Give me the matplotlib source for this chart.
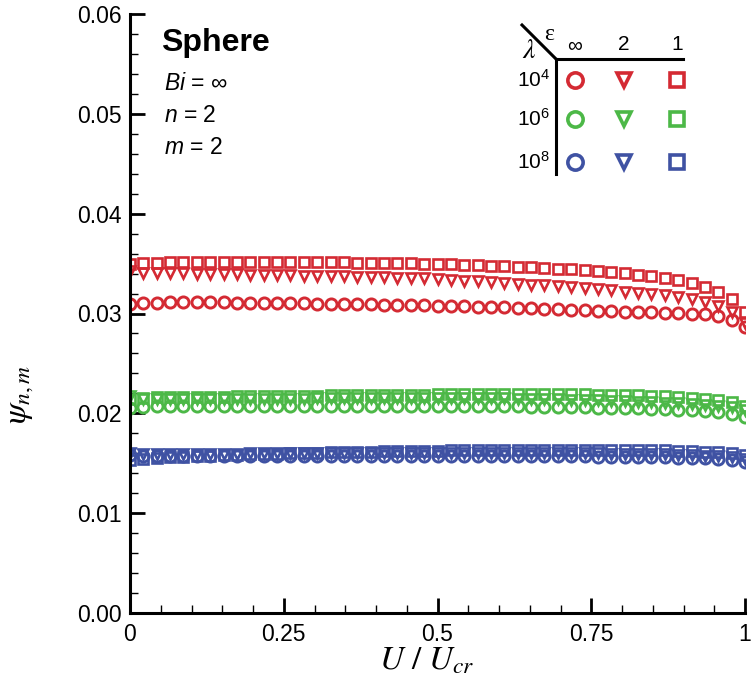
import numpy as np
import matplotlib
matplotlib.use("Agg")
import matplotlib.pyplot as plt
from matplotlib.lines import Line2D
from matplotlib.ticker import FixedLocator

plt.rcParams['font.family'] = ['Liberation Sans', 'DejaVu Sans']
plt.rcParams['mathtext.fontset'] = 'custom'
plt.rcParams['mathtext.rm'] = 'Liberation Sans'
plt.rcParams['mathtext.it'] = 'Liberation Sans:italic'
plt.rcParams['mathtext.bf'] = 'Liberation Sans:bold'

# U / U_cr sampling grid (47 equally spaced stations)
U = np.linspace(0, 1, 47)

# lambda = 1e4 (red)
R_ci = [0.0310, 0.0311, 0.0311, 0.0312, 0.0312, 0.0312, 0.0312, 0.0312, 0.0311, 0.0311,
        0.0311, 0.0311, 0.0311, 0.0311, 0.0310, 0.0310, 0.0310, 0.0310, 0.0310, 0.0309,
        0.0309, 0.0309, 0.0309, 0.0308, 0.0308, 0.0308, 0.0307, 0.0307, 0.0307, 0.0306,
        0.0306, 0.0305, 0.0305, 0.0304, 0.0304, 0.0303, 0.0303, 0.0302, 0.0302, 0.0302,
        0.0301, 0.0301, 0.0300, 0.0299, 0.0297, 0.0293, 0.0286]
R_tr = [0.0343, 0.0341, 0.0341, 0.0341, 0.0341, 0.0340, 0.0340, 0.0340, 0.0340, 0.0339,
        0.0339, 0.0339, 0.0339, 0.0338, 0.0338, 0.0338, 0.0338, 0.0337, 0.0337, 0.0337,
        0.0336, 0.0336, 0.0336, 0.0335, 0.0334, 0.0333, 0.0333, 0.0332, 0.0331, 0.0330,
        0.0329, 0.0329, 0.0328, 0.0327, 0.0326, 0.0325, 0.0324, 0.0322, 0.0321, 0.0320,
        0.0319, 0.0317, 0.0315, 0.0312, 0.0308, 0.0302, 0.0290]
R_sq = [0.0350, 0.0351, 0.0351, 0.0352, 0.0352, 0.0352, 0.0352, 0.0352, 0.0352, 0.0352,
        0.0352, 0.0352, 0.0352, 0.0352, 0.0352, 0.0352, 0.0352, 0.0351, 0.0351, 0.0351,
        0.0351, 0.0351, 0.0350, 0.0350, 0.0350, 0.0349, 0.0349, 0.0348, 0.0348, 0.0347,
        0.0347, 0.0346, 0.0345, 0.0345, 0.0344, 0.0343, 0.0342, 0.0341, 0.0339, 0.0338,
        0.0336, 0.0334, 0.0331, 0.0327, 0.0322, 0.0315, 0.0302]

# lambda = 1e6 (green)
G_ci = [0.0205, 0.0206, 0.0207, 0.0207, 0.0207, 0.0207, 0.0207, 0.0207, 0.0207, 0.0207,
        0.0207, 0.0207, 0.0207, 0.0207, 0.0207, 0.0207, 0.0207, 0.0207, 0.0207, 0.0207,
        0.0207, 0.0207, 0.0207, 0.0207, 0.0207, 0.0207, 0.0207, 0.0207, 0.0207, 0.0207,
        0.0206, 0.0206, 0.0206, 0.0206, 0.0206, 0.0205, 0.0205, 0.0205, 0.0205, 0.0204,
        0.0204, 0.0203, 0.0203, 0.0202, 0.0201, 0.0199, 0.0196]
G_tr = [0.0217, 0.0214, 0.0214, 0.0214, 0.0214, 0.0214, 0.0214, 0.0214, 0.0214, 0.0214,
        0.0214, 0.0214, 0.0214, 0.0214, 0.0215, 0.0215, 0.0215, 0.0215, 0.0215, 0.0215,
        0.0215, 0.0215, 0.0215, 0.0215, 0.0215, 0.0215, 0.0215, 0.0215, 0.0215, 0.0214,
        0.0214, 0.0214, 0.0214, 0.0213, 0.0213, 0.0213, 0.0212, 0.0212, 0.0211, 0.0211,
        0.0210, 0.0210, 0.0209, 0.0208, 0.0207, 0.0206, 0.0203]
G_sq = [0.0214, 0.0215, 0.0216, 0.0216, 0.0216, 0.0216, 0.0216, 0.0216, 0.0217, 0.0217,
        0.0217, 0.0217, 0.0217, 0.0217, 0.0217, 0.0218, 0.0218, 0.0218, 0.0218, 0.0218,
        0.0218, 0.0218, 0.0218, 0.0219, 0.0219, 0.0219, 0.0219, 0.0219, 0.0219, 0.0219,
        0.0219, 0.0219, 0.0219, 0.0219, 0.0219, 0.0218, 0.0218, 0.0218, 0.0218, 0.0217,
        0.0217, 0.0216, 0.0215, 0.0214, 0.0213, 0.0211, 0.0207]

# lambda = 1e8 (blue)
B_ci = [0.0158, 0.0157, 0.0157, 0.0157, 0.0157, 0.0157, 0.0157, 0.0157, 0.0157, 0.0157,
        0.0157, 0.0157, 0.0157, 0.0157, 0.0157, 0.0157, 0.0157, 0.0157, 0.0157, 0.0157,
        0.0157, 0.0157, 0.0157, 0.0157, 0.0157, 0.0157, 0.0157, 0.0157, 0.0157, 0.0157,
        0.0157, 0.0157, 0.0157, 0.0157, 0.0157, 0.0156, 0.0156, 0.0156, 0.0156, 0.0156,
        0.0156, 0.0155, 0.0155, 0.0155, 0.0154, 0.0153, 0.0151]
B_tr = [0.0160, 0.0159, 0.0159, 0.0159, 0.0159, 0.0159, 0.0159, 0.0159, 0.0159, 0.0160,
        0.0160, 0.0160, 0.0160, 0.0160, 0.0160, 0.0160, 0.0160, 0.0160, 0.0160, 0.0160,
        0.0160, 0.0160, 0.0160, 0.0160, 0.0160, 0.0160, 0.0160, 0.0160, 0.0160, 0.0160,
        0.0160, 0.0160, 0.0160, 0.0160, 0.0160, 0.0160, 0.0159, 0.0159, 0.0159, 0.0159,
        0.0159, 0.0158, 0.0158, 0.0157, 0.0157, 0.0156, 0.0154]
B_sq = [0.0153, 0.0154, 0.0155, 0.0156, 0.0156, 0.0157, 0.0157, 0.0158, 0.0158, 0.0159,
        0.0159, 0.0159, 0.0160, 0.0160, 0.0160, 0.0161, 0.0161, 0.0161, 0.0161, 0.0162,
        0.0162, 0.0162, 0.0162, 0.0162, 0.0163, 0.0163, 0.0163, 0.0163, 0.0163, 0.0163,
        0.0163, 0.0163, 0.0163, 0.0163, 0.0163, 0.0163, 0.0163, 0.0163, 0.0163, 0.0163,
        0.0163, 0.0162, 0.0162, 0.0161, 0.0161, 0.0160, 0.0158]

x_ticks = [0, 0.25, 0.5, 0.75, 1]
x_ticklabels = ['0', '0.25', '0.5', '0.75', '1']
y_ticks = [0, 0.01, 0.02, 0.03, 0.04, 0.05, 0.06]
y_ticklabels = ['0.00', '0.01', '0.02', '0.03', '0.04', '0.05', '0.06']
lam_labels = ['$10^4$', '$10^6$', '$10^8$']
eps_labels = [r'$\infty$', '2', '1']

red, green, blue = '#d42a33', '#4cb847', '#3f52a3'
series = [(R_sq, R_tr, R_ci, red), (G_sq, G_tr, G_ci, green), (B_sq, B_tr, B_ci, blue)]

W, H = 753, 682
fig = plt.figure(figsize=(W / 100, H / 100), dpi=100)
ax = fig.add_axes([130 / W, 1 - 613 / H, 615 / W, 599 / H])

for sq, tr, ci, c in series:
    ax.plot(U, sq, ls='none', marker='s', ms=7, mfc='none', mec=c, mew=1.9)
    ax.plot(U, tr, ls='none', marker='v', ms=7.5, mfc='none', mec=c, mew=1.9)
    ax.plot(U, ci, ls='none', marker='o', ms=8, mfc='none', mec=c, mew=2.1)

ax.set_xlim(0, 1)
ax.set_ylim(0, 0.06)
ax.xaxis.set_major_locator(FixedLocator(x_ticks))
ax.xaxis.set_minor_locator(FixedLocator(np.arange(0, 1.001, 0.05)))
ax.yaxis.set_major_locator(FixedLocator(y_ticks))
ax.yaxis.set_minor_locator(FixedLocator(np.arange(0, 0.0601, 0.002)))
ax.set_xticklabels(x_ticklabels)
ax.set_yticklabels(y_ticklabels)
ax.tick_params(which='both', direction='in', labelsize=16.5, top=False, right=False)
ax.tick_params(which='major', length=11, width=2)
ax.tick_params(which='minor', length=6, width=1)
ax.tick_params(axis='x', pad=7)
ax.tick_params(axis='y', pad=6)
for s in ['top', 'right']:
    ax.spines[s].set_visible(False)
for s in ['left', 'bottom']:
    ax.spines[s].set_linewidth(2.2)

fig.text(427 / W, 1 - 661 / H, r'$U\ /\ U_{cr}$', fontsize=24, ha='center', va='center',
         math_fontfamily='stix')
fig.text(20 / W, 1 - 395 / H, r'$\psi_{n,m}$', fontsize=24, ha='center', va='center',
         rotation=90, math_fontfamily='stix')

fig.text(161 / W, 1 - 43 / H, 'Sphere', fontsize=23, fontweight='bold', va='center')
fig.text(164 / W, 1 - 84 / H, r'$Bi$ = $\infty$', fontsize=16.5, va='center')
fig.text(164 / W, 1 - 116 / H, r'$n$ = 2', fontsize=16.5, va='center')
fig.text(164 / W, 1 - 147 / H, r'$m$ = 2', fontsize=16.5, va='center')


def px(x, y):
    return x / W, 1 - y / H


# table style legend
for (x0, y0), (x1, y1) in [((522, 25), (556, 59)), ((556, 59), (683, 59)), ((556, 59), (556, 174))]:
    fig.add_artist(Line2D([x0 / W, x1 / W], [1 - y0 / H, 1 - y1 / H], color='black', lw=2.2))
fig.text(*px(549, 34), 'ε', fontsize=17, ha='center', va='center', family='Liberation Serif')
fig.text(*px(529, 51), r'$\lambda$', fontsize=20, ha='center', va='center', math_fontfamily='stix')
col_x = [575, 624, 677]
row_y = [80, 119, 162]
for cx, lab in zip(col_x, eps_labels):
    fig.text(*px(cx, 45), lab, fontsize=15, ha='center', va='center')
for ry, lab, (_, _, _, c) in zip(row_y, lam_labels, series):
    fig.text(*px(550, ry), lab, fontsize=15, ha='right', va='center')
    for cx, mk, ms in zip(col_x, ['o', 'v', 's'], [11, 9.5, 10]):
        fig.add_artist(Line2D([cx / W], [1 - ry / H], ls='none', marker=mk, ms=ms,
                              mfc='none', mec=c, mew=2.6))

fig.savefig('out.png', dpi=100)
